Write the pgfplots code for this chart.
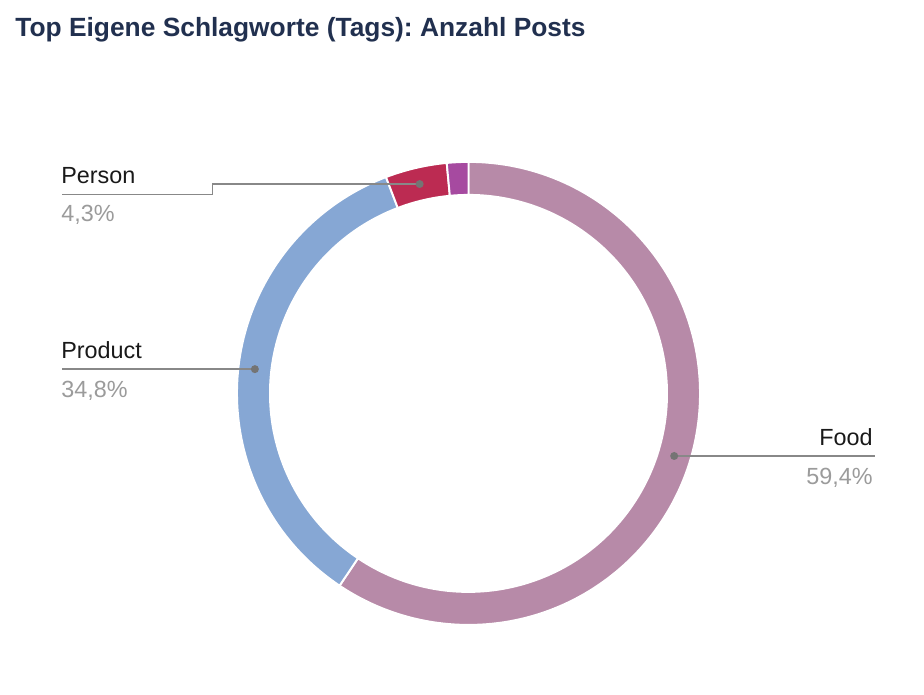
\documentclass[border=0pt]{standalone}
\usepackage{pgfplots}
\usepackage{pgfplotstable}
\pgfplotsset{compat=1.18}
\usepackage{fontspec}
\setmainfont{Liberation Sans}
\frenchspacing

\definecolor{slice0}{HTML}{B78AA8}
\definecolor{slice1}{HTML}{86A7D4}
\definecolor{slice2}{HTML}{BC2B52}
\definecolor{slice3}{HTML}{A64AA0}
\definecolor{titleblue}{HTML}{21304F}
\definecolor{pctgray}{HTML}{9B9B9B}
\definecolor{leadgray}{HTML}{888888}
\definecolor{dotgray}{HTML}{747474}

% share of posts per tag, in percent (clockwise from 12 o'clock)
\pgfplotstableread{
tag value
Food 59.4
Product 34.8
Person 4.3
Sonstige 1.5
}\tagtable

% ring geometry in cm (1 cm = 50 px of the reference)
\def\cx{9.37}\def\cy{6.012}\def\Ro{4.63}\def\Ri{3.97}\def\Rm{4.30}

\newcommand\lbl{\fontsize{13.3}{16}\selectfont}

\begin{document}
\begin{tikzpicture}
\begin{axis}[
  x=1cm, y=1cm,
  xmin=0, xmax=18.48, ymin=0, ymax=13.88,
  hide axis, clip=false, scale only axis,
]
\path (axis cs:0,0) rectangle (axis cs:18.48,13.88);

\gdef\cum{0}
\pgfplotsforeachungrouped \i in {0,...,3}{%
  \pgfplotstablegetelem{\i}{value}\of\tagtable
  \pgfmathsetmacro\angstart{90-3.6*\cum}%
  \pgfmathsetmacro\cumnew{\cum+\pgfplotsretval}%
  \xdef\cum{\cumnew}%
  \pgfmathsetmacro\angend{90-3.6*\cum}%
  \pgfmathsetmacro\angmid{(\angstart+\angend)/2}%
  \pgfmathsetmacro\oxa{\cx+\Ro*cos(\angstart)}%
  \pgfmathsetmacro\oya{\cy+\Ro*sin(\angstart)}%
  \pgfmathsetmacro\ixb{\cx+\Ri*cos(\angend)}%
  \pgfmathsetmacro\iyb{\cy+\Ri*sin(\angend)}%
  \pgfmathsetmacro\px{\cx+\Rm*cos(\angmid)}%
  \pgfmathsetmacro\py{\cy+\Rm*sin(\angmid)}%
  \expandafter\xdef\csname dotx\i\endcsname{\px}%
  \expandafter\xdef\csname doty\i\endcsname{\py}%
  \edef\temp{\noexpand\fill[slice\i, draw=white, line width=1.1pt]
    (axis cs:\oxa,\oya) arc[start angle=\angstart, end angle=\angend, radius=\Ro]
    -- (axis cs:\ixb,\iyb) arc[start angle=\angend, end angle=\angstart, radius=\Ri]
    -- cycle;}%
  \temp
}

% leader lines
\edef\temp{\noexpand\draw[leadgray, line width=1pt]
  (axis cs:\csname dotx0\endcsname,\csname doty0\endcsname) -- (axis cs:17.5,\csname doty0\endcsname);
  \noexpand\fill[dotgray] (axis cs:\csname dotx0\endcsname,\csname doty0\endcsname) circle[radius=0.08];
  \noexpand\draw[leadgray, line width=1pt]
  (axis cs:1.24,\csname doty1\endcsname) -- (axis cs:\csname dotx1\endcsname,\csname doty1\endcsname);
  \noexpand\fill[dotgray] (axis cs:\csname dotx1\endcsname,\csname doty1\endcsname) circle[radius=0.08];
  \noexpand\draw[leadgray, line width=1pt]
  (axis cs:1.24,9.99) -- (axis cs:4.25,9.99) -- (axis cs:4.25,\csname doty2\endcsname)
  -- (axis cs:\csname dotx2\endcsname,\csname doty2\endcsname);
  \noexpand\fill[dotgray] (axis cs:\csname dotx2\endcsname,\csname doty2\endcsname) circle[radius=0.08];}
\temp

% labels
\node[anchor=base west, inner sep=0pt, font=\lbl, text=black!90] at (axis cs:1.22,10.214) {Person};
\node[anchor=base west, inner sep=0pt, font=\lbl, text=pctgray] at (axis cs:1.22,9.446) {4,3\%};
\node[anchor=base west, inner sep=0pt, font=\lbl, text=black!90] at (axis cs:1.22,6.706) {Product};
\node[anchor=base west, inner sep=0pt, font=\lbl, text=pctgray] at (axis cs:1.22,5.934) {34,8\%};
\node[anchor=base east, inner sep=0pt, font=\lbl, text=black!90] at (axis cs:17.46,4.98) {Food};
\node[anchor=base east, inner sep=0pt, font=\lbl, text=pctgray] at (axis cs:17.46,4.20) {59,4\%};

% title
\node[anchor=base west, inner sep=0pt, text=titleblue,
  font=\fontsize{15.0}{18}\selectfont\bfseries] at (axis cs:0.30,13.146)
  {Top Eigene Schlagworte (Tags): Anzahl Posts};
\end{axis}
\end{tikzpicture}
\end{document}
